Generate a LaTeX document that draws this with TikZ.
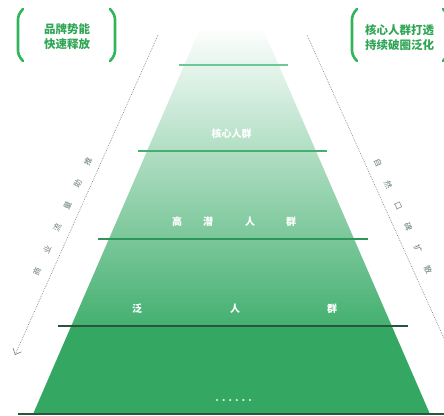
\documentclass[tikz,border=0pt]{standalone}
\usepackage{fontspec}
\newfontfamily\cjk{Noto Sans CJK SC}
\usetikzlibrary{arrows.meta,positioning}
\definecolor{pyrgreen}{RGB}{52,168,98}
\definecolor{pyrmid}{RGB}{68,176,112}
\definecolor{pyrpale}{RGB}{252,254,253}
\definecolor{brgreen}{RGB}{50,180,90}
\definecolor{txtgreen}{RGB}{48,165,85}
\definecolor{flowgray}{RGB}{105,125,115}
\definecolor{lineone}{RGB}{110,200,150}
\definecolor{linetwo}{RGB}{70,175,112}
\definecolor{linethree}{RGB}{45,150,88}
\definecolor{linefour}{RGB}{40,85,60}
\tikzset{>={Straight Barb[length=5pt,width=9pt]}}
\tikzset{
  bracket/.style={line width=2.6pt, line cap=round, rounded corners=4pt, draw=brgreen},
  headline/.style={font=\cjk\bfseries\fontsize{11.5}{15}\selectfont, text=txtgreen, align=center},
  layer/.style={font=\cjk\bfseries\fontsize{10}{12}\selectfont, text=white, inner sep=1pt},
  flowline/.style={dash pattern=on 0.7pt off 1.1pt, line width=0.6pt, draw=flowgray, ->},
  flowchar/.style={font=\cjk\fontsize{8}{9}\selectfont, text=flowgray, inner sep=0pt},
}

\begin{document}
\begin{tikzpicture}[x=1pt,y=-1pt]
  \useasboundingbox (0,0) rectangle (444,415);
  % pyramid
  \shade[top color=pyrpale, bottom color=pyrmid]
    (199.5,30) -- (263.5,30) -- (391.8,326) -- (71.2,326) -- cycle;
  \fill[pyrgreen] (71.2,326) -- (391.8,326) -- (429.5,413) -- (33.5,413) -- cycle;
  \draw[lineone, line width=1.2pt] (179,65) -- (288,65);
  \draw[linetwo, line width=1.2pt] (138,151) -- (327,151);
  \draw[linethree, line width=1.2pt] (98,239) -- (368,239);
  \draw[linefour, line width=1.1pt] (58,326) -- (408,326);
  \draw[linefour, line width=2pt] (18,414) -- (444,414);

  \node[layer] (core) at (231.5,134) {核心人群};
  \node[layer] (pot1) at (177,222) {高};
  \node[layer] (pot2) at (208,222) {潜};
  \node[layer] (pot3) at (250,222) {人};
  \node[layer] (pot4) at (291,222) {群};
  \node[layer] (wide1) at (137,309) {泛};
  \node[layer] (wide2) at (235,309) {人};
  \node[layer] (wide3) at (332,309) {群};
  \foreach \i in {0,...,5}
    \fill[white!85!pyrgreen] ({217+6.6*\i},400) circle (1.2);

  % side flows
  \coordinate (lefttop) at (158,35);
  \coordinate (leftend) at (15,355);
  \coordinate (righttop) at (307,35);
  \coordinate (rightend) at (452,356);
  \draw[flowline] (lefttop) -- (leftend);
  \draw[flowline] (righttop) -- (rightend);
  \foreach \c [count=\i from 0] in {商,业,流,量,助,推}
    \node[flowchar, rotate=65] (biz\i) at ({37+10.2*\i},{272-22*\i}) {\c};
  \foreach \c [count=\i from 0] in {自,然,口,碑,扩,散}
    \node[flowchar, rotate=-65] (word\i) at ({378+10*\i},{163+21.4*\i}) {\c};

  % headlines
  \draw[bracket] (23,9) -- (18,15) -- (18,55) -- (23,61);
  \draw[bracket] (110,9) -- (115,15) -- (115,55) -- (110,61);
  \node[headline] (brand) at (67,37) {品牌势能\\快速释放};
  \draw[bracket] (357,9) -- (352,15) -- (352,55) -- (357,61);
  \draw[bracket] (443,9) -- (448,15) -- (448,55) -- (443,61);
  \node[headline] (crowd) at (399.5,38) {核心人群打透\\持续破圈泛化};
\end{tikzpicture}
\end{document}
